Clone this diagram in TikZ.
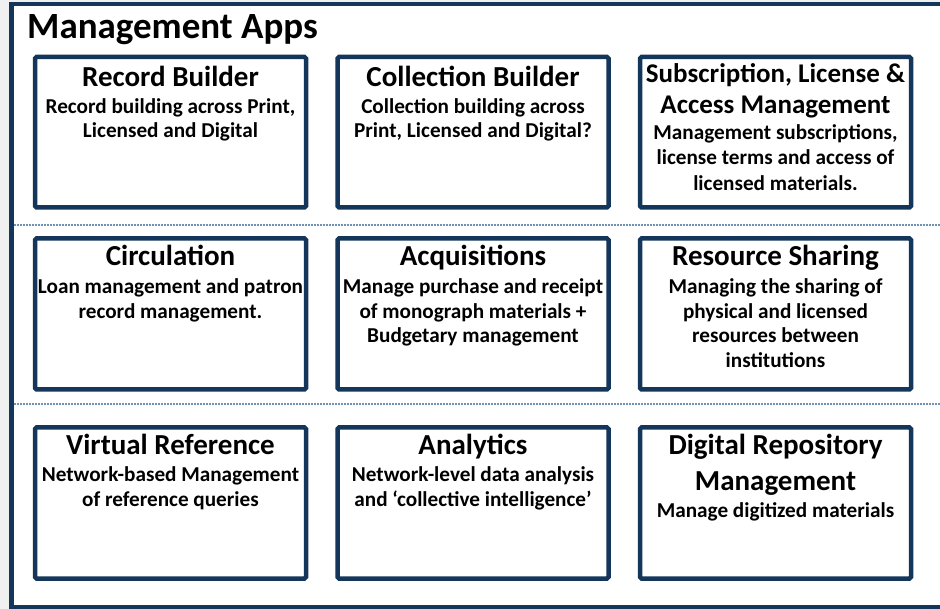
\documentclass[tikz,border=0pt]{standalone}
\usepackage{fontspec}
\setmainfont{Carlito}
\definecolor{navy}{RGB}{20,54,90}
\definecolor{dotblue}{RGB}{110,145,180}
\definecolor{bggrey}{RGB}{240,240,240}
\newcommand{\appTsize}{29}
\tikzset{
  appbox/.style={draw=navy, line width=4.5pt, rounded corners=1.5pt, fill=white, outer sep=0pt, inner sep=0pt},
  apptitle/.style={anchor=north, inner sep=0pt, align=center, font=\bfseries\fontsize{\appTsize}{#1}\selectfont},
  appdesc/.style={anchor=north, inner sep=0pt, align=center, font=\bfseries\fontsize{21.2}{#1}\selectfont},
  sep/.style={draw=dotblue, line width=1.2pt, dash pattern=on 2pt off 1pt},
}
% #1 name, #2 x-centre, #3 top, #4 bottom, #5 title baseline offset, #6 title skip, #7 title,
% #8 desc baseline offset, #9 desc skip
\newcommand{\appBox}[9]{%
  \node[appbox, minimum width=271pt, minimum height={(#4-#3)*1pt}, anchor=north] (#1) at (#2,#3) {};
  \node[apptitle=#6] (#1t) at ([yshift={(24-#5)*1pt}]#1.north) {\rule{0pt}{24pt}#7};
  \def\appdescoff{#8}\def\appdescskip{#9}%
}
\newcommand{\appDesc}[2]{%
  \node[appdesc=\appdescskip] (#1d) at ([yshift={(18-\appdescoff)*1pt}]#1.north) {\rule{0pt}{18pt}#2};
}
\begin{document}
\begin{tikzpicture}[x=1pt,y=-1pt]
\useasboundingbox (0,0) rectangle (940,609);
\fill[bggrey] (0,0) rectangle (940,609);
\draw[draw=navy, line width=4.5pt, fill=white] (11.7,3.8) rectangle (970,607.5);
\coordinate (l1a) at (14,225); \coordinate (l1b) at (940,225);
\coordinate (l2a) at (14,404); \coordinate (l2b) at (940,404);
\draw[sep] (l1a) -- (l1b);
\draw[sep] (l2a) -- (l2b);
\node[anchor=base west, inner sep=0pt, font=\bfseries\fontsize{37}{42}\selectfont] (head) at (27,39) {Management Apps};
% row 1
\appBox{rb}{170.5}{57}{207.5}{29}{31}{Record Builder}{56}{24}
\appDesc{rb}{Record building across Print,\\Licensed and Digital}
\appBox{cb}{473}{57}{207.5}{29}{31}{Collection Builder}{56}{24}
\appDesc{cb}{Collection building across\\Print, Licensed and Digital?}
\renewcommand{\appTsize}{27}
\appBox{sl}{775.5}{57}{207.5}{25}{31.5}{Subscription, License \&\\Access Management}{82}{25.5}
\appDesc{sl}{Management subscriptions,\\license terms and access of\\licensed materials.}
\renewcommand{\appTsize}{29}
% row 2
\appBox{ci}{170.5}{238.5}{389.5}{27}{31}{Circulation}{55}{24.5}
\appDesc{ci}{Loan management and patron\\record management.}
\appBox{ac}{473}{238.5}{389.5}{27}{31}{Acquisitions}{55}{24.5}
\appDesc{ac}{Manage purchase and receipt\\of monograph materials +\\Budgetary management}
\appBox{rs}{775.5}{238.5}{389.5}{27}{31}{Resource Sharing}{55}{24.5}
\appDesc{rs}{Managing the sharing of\\physical and licensed\\resources between\\institutions}
% row 3
\appBox{vr}{170.5}{427.5}{578.5}{26.5}{31}{Virtual Reference}{53.5}{25}
\appDesc{vr}{Network-based Management\\of reference queries}
\appBox{an}{473}{427.5}{578.5}{26.5}{31}{Analytics}{53.5}{25}
\appDesc{an}{Network-level data analysis\\and ‘collective intelligence’}
\appBox{dr}{775.5}{427.5}{578.5}{26.5}{36}{Digital Repository\\Management}{89.5}{25}
\appDesc{dr}{Manage digitized materials}
\end{tikzpicture}
\end{document}
